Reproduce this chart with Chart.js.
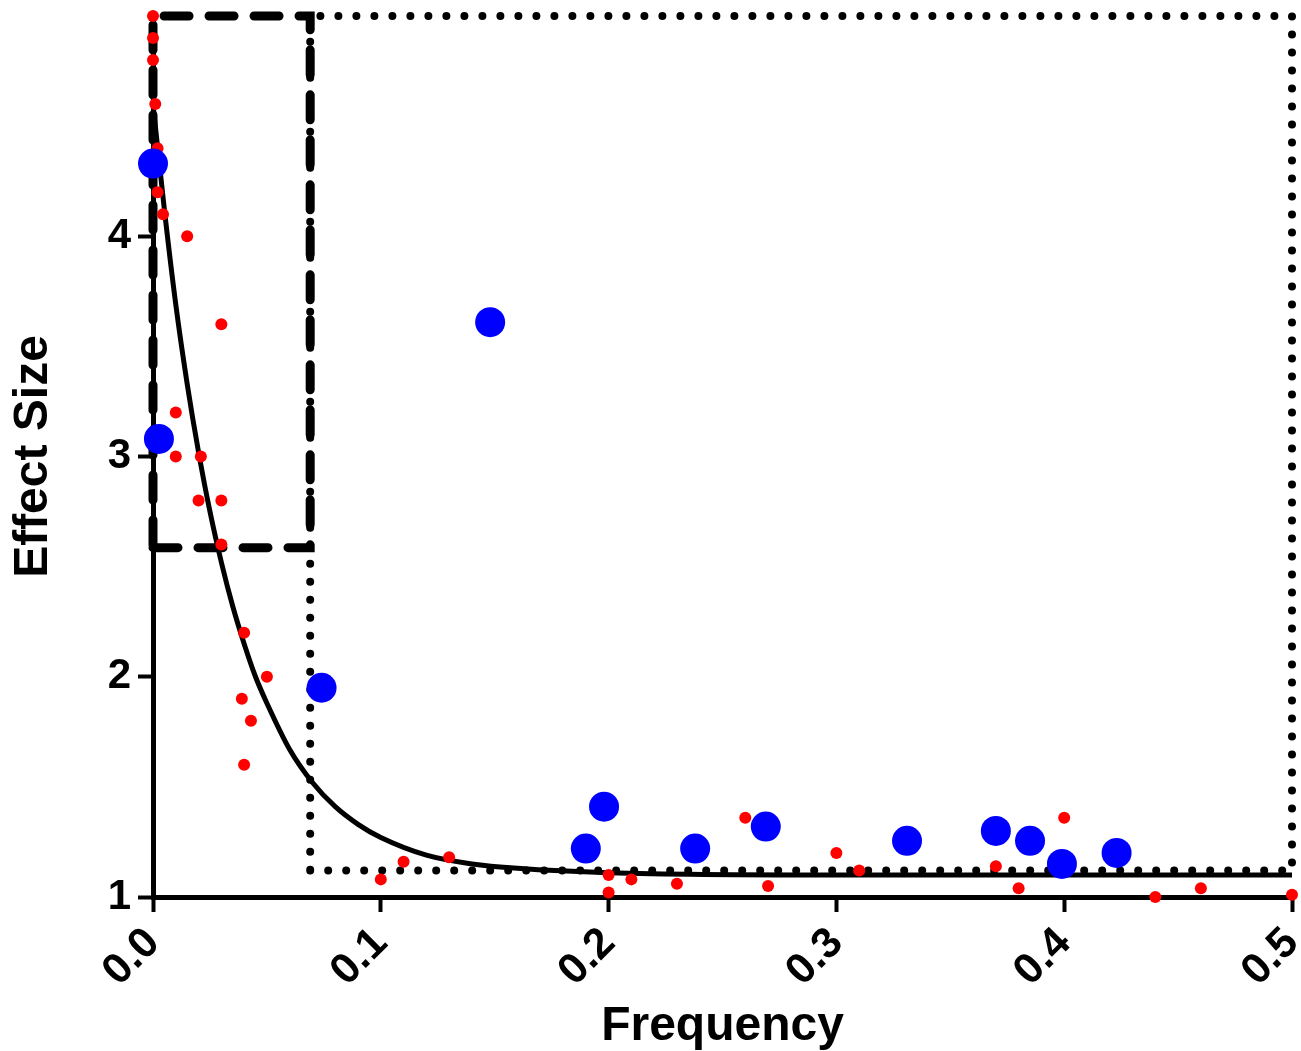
<!DOCTYPE html>
<html>
<head>
<meta charset="utf-8">
<script src="https://cdn.jsdelivr.net/npm/chart.js@4.4.0/dist/chart.umd.min.js"></script>
<style>
  body { margin: 0; background: #fff; }
  #wrap { width: 1301px; height: 1051px; }
</style>
</head>
<body>
<div id="wrap"><canvas id="myChart" width="1301" height="1051"></canvas></div>
<script>
// small red dots
const redX = [0, 0, 0, 0.001, 0.002, 0.002, 0.0044, 0.015, 0.030, 0.010, 0.010, 0.021, 0.020, 0.030, 0.030,
  0.040, 0.050, 0.039, 0.043, 0.040, 0.10, 0.11, 0.13, 0.20, 0.20, 0.21, 0.23, 0.26, 0.27, 0.30, 0.31,
  0.37, 0.38, 0.40, 0.44, 0.46, 0.50]
const redY = [5.0, 4.9, 4.8, 4.6, 4.4, 4.2, 4.1, 4.0, 3.6, 3.2, 3.0, 3.0, 2.8, 2.8, 2.6,
  2.2, 2.0, 1.9, 1.8, 1.6, 1.08, 1.16, 1.18, 1.1, 1.02, 1.08, 1.06, 1.36, 1.05, 1.2, 1.12,
  1.14, 1.04, 1.36, 1.0, 1.04, 1.01]

// big blue dots
const blueX = [0.0, 0.0026, 0.074, 0.148, 0.19, 0.198, 0.238, 0.269, 0.331, 0.37, 0.385, 0.399, 0.423]
const blueY = [4.33, 3.08, 1.95, 3.61, 1.22, 1.41, 1.22, 1.32, 1.255, 1.30, 1.255, 1.15, 1.2]

// fitted curve
const curveX = [0, 0.005, 0.01, 0.015, 0.02, 0.025, 0.03, 0.035, 0.04, 0.045, 0.05, 0.06, 0.07, 0.08,
  0.09, 0.1, 0.12, 0.14, 0.16, 0.2, 0.3, 0.4, 0.5]
const curveY = [4.6, 4.12, 3.69, 3.33, 3.02, 2.75, 2.52, 2.32, 2.15, 2.0, 1.88, 1.67, 1.52, 1.41,
  1.33, 1.27, 1.19, 1.15, 1.13, 1.11, 1.1, 1.1, 1.1]

// boxes (x range, y range)
const dashBoxX = [0, 0.069]
const dashBoxY = [2.586, 5]
const dotBoxX = [0.069, 0.5]
const dotBoxY = [1.12, 5]

const xTicks = [0, 0.1, 0.2, 0.3, 0.4, 0.5]
const yTicks = [1, 2, 3, 4]

function pts(xs, ys) {
  return xs.map((x, i) => ({ x: x, y: ys[i] }))
}
function box(xs, ys) {
  return [
    { x: xs[0], y: ys[0] }, { x: xs[1], y: ys[0] }, { x: xs[1], y: ys[1] },
    { x: xs[0], y: ys[1] }, { x: xs[0], y: ys[0] },
  ]
}
function noPad(s) {
  s.paddingLeft = 0
  s.paddingRight = 0
  s.paddingTop = 0
  s.paddingBottom = 0
}

const FONT = "'Liberation Sans', Arial, sans-serif"

const ctx = document.getElementById("myChart").getContext("2d")
const myChart = new Chart(ctx, {
  type: "scatter",
  data: {
    datasets: [
      {
        data: pts(blueX, blueY),
        backgroundColor: "#0000ff",
        borderWidth: 0,
        pointRadius: 15,
        clip: false,
      },
      {
        data: pts(redX, redY),
        backgroundColor: "#ff0000",
        borderWidth: 0,
        pointRadius: 6,
        clip: false,
      },
      {
        data: pts(curveX, curveY),
        showLine: true,
        borderColor: "#000",
        borderWidth: 5,
        pointRadius: 0,
        cubicInterpolationMode: "monotone",
        clip: false,
      },
      {
        data: box(dashBoxX, dashBoxY),
        showLine: true,
        borderColor: "#000",
        borderWidth: 9,
        borderDash: [25, 20],
        borderCapStyle: "round",
        pointRadius: 0,
        clip: false,
      },
      {
        data: box(dotBoxX, dotBoxY),
        showLine: true,
        borderColor: "#000",
        borderWidth: 8,
        borderDash: [0, 18],
        borderCapStyle: "round",
        pointRadius: 0,
        clip: false,
      },
    ],
  },
  options: {
    responsive: false,
    animation: false,
    events: [],
    layout: { autoPadding: false, padding: { top: 16, right: 9, left: 0, bottom: 0 } },
    plugins: { legend: { display: false }, tooltip: { enabled: false } },
    scales: {
      x: {
        type: "linear",
        min: 0,
        max: 0.5,
        afterBuildTicks: (s) => { s.ticks = xTicks.map((v) => ({ value: v })) },
        afterFit: (s) => { s.height = 154; noPad(s) },
        border: { display: true, color: "#000", width: 5 },
        grid: { drawOnChartArea: false, drawTicks: true, tickLength: 15, tickWidth: 4, tickColor: "#000" },
        ticks: {
          color: "#000",
          padding: 6,
          minRotation: 45,
          maxRotation: 45,
          font: { family: FONT, size: 43, weight: "bold" },
          callback: (v) => v.toFixed(1),
        },
        title: {
          display: true,
          text: "Frequency",
          color: "#000",
          padding: { top: 0, bottom: 0 },
          font: { family: FONT, size: 48, weight: "bold", lineHeight: 1 },
        },
      },
      y: {
        min: 1,
        max: 5,
        afterBuildTicks: (s) => { s.ticks = yTicks.map((v) => ({ value: v })) },
        afterFit: (s) => { s.width = 153; noPad(s) },
        border: { display: true, color: "#000", width: 5 },
        grid: { drawOnChartArea: false, drawTicks: true, tickLength: 15, tickWidth: 4, tickColor: "#000" },
        ticks: {
          color: "#000",
          padding: 7,
          font: { family: FONT, size: 42, weight: "bold" },
          callback: (v) => String(v),
        },
        title: {
          display: true,
          text: "Effect Size",
          color: "#000",
          padding: { top: 10, bottom: 0 },
          font: { family: FONT, size: 48, weight: "bold", lineHeight: 1 },
        },
      },
    },
  },
})
</script>
</body>
</html>
